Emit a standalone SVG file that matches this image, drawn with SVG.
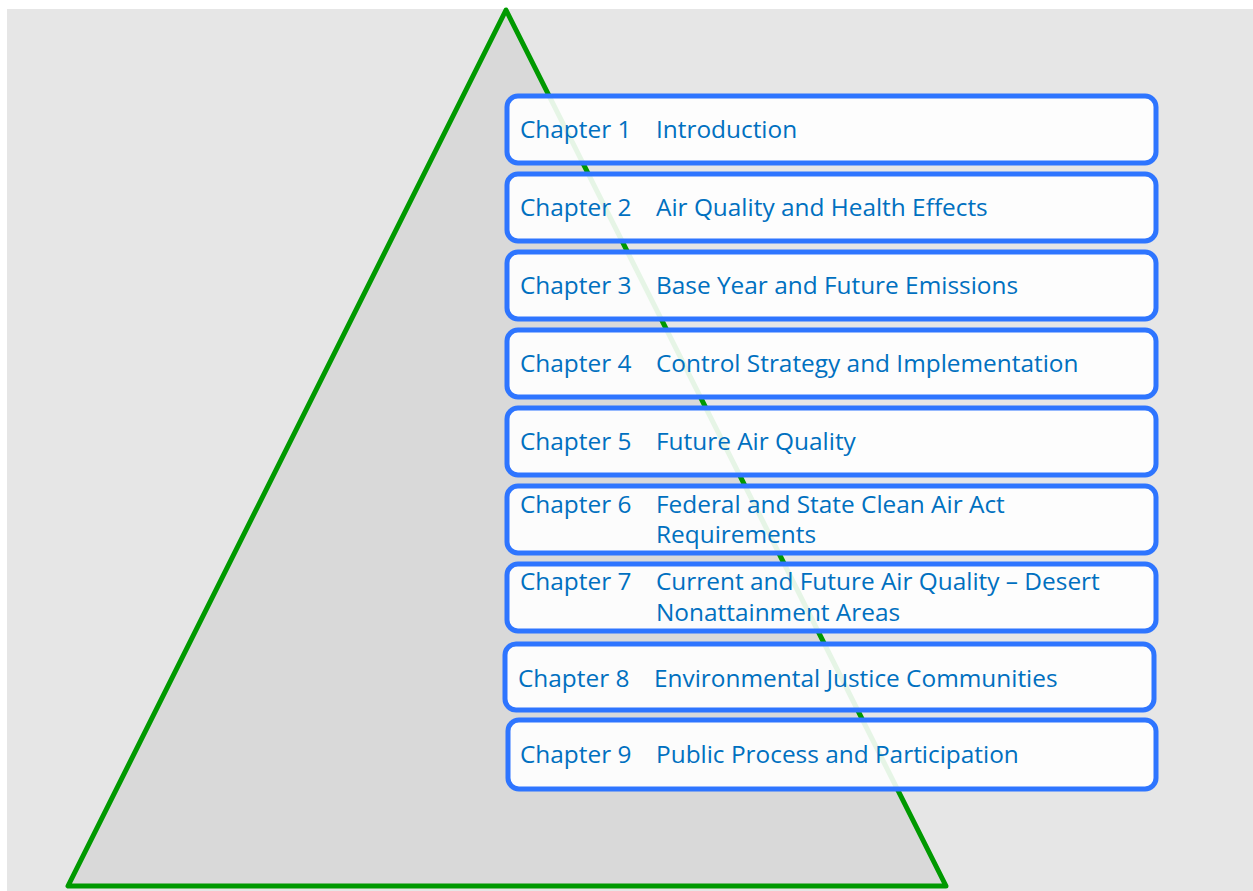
<svg xmlns="http://www.w3.org/2000/svg" width="1253" height="891" viewBox="0 0 1253 891">
<style>
.box{fill:#ffffff;fill-opacity:0.9;stroke:#2e75ff;stroke-width:5}
.t{font-family:"Open Sans","Noto Sans",sans-serif;font-size:24.4px;fill:#0070c0}
</style>
<rect x="0" y="0" width="1253" height="891" fill="#ffffff"/>
<rect x="7" y="9" width="1246" height="882" fill="#e6e6e6"/>
<g id="pyramid">
<polygon points="506,10 68,886 946,886" fill="#d9d9d9" stroke="#009900" stroke-width="5" stroke-linejoin="round"/>
</g>
<g id="connectors"></g>
<g id="ch1"><rect class="box" x="507" y="96" width="649" height="67" rx="11"/><text class="t" x="520" y="138">Chapter 1</text><text class="t" x="656" y="138">Introduction</text></g>
<g id="ch2"><rect class="box" x="507" y="174" width="649" height="67" rx="11"/><text class="t" x="520" y="216">Chapter 2</text><text class="t" x="656" y="216">Air Quality and Health Effects</text></g>
<g id="ch3"><rect class="box" x="507" y="252" width="649" height="67" rx="11"/><text class="t" x="520" y="294">Chapter 3</text><text class="t" x="656" y="294">Base Year and Future Emissions</text></g>
<g id="ch4"><rect class="box" x="507" y="330" width="649" height="67" rx="11"/><text class="t" x="520" y="372">Chapter 4</text><text class="t" x="656" y="372">Control Strategy and Implementation</text></g>
<g id="ch5"><rect class="box" x="507" y="408" width="649" height="67" rx="11"/><text class="t" x="520" y="450">Chapter 5</text><text class="t" x="656" y="450">Future Air Quality</text></g>
<g id="ch6"><rect class="box" x="507" y="486" width="649" height="67" rx="11"/><text class="t" x="520" y="513">Chapter 6</text><text class="t" x="656" y="513">Federal and State Clean Air Act</text><text class="t" x="656" y="543">Requirements</text></g>
<g id="ch7"><rect class="box" x="507" y="564" width="649" height="67" rx="11"/><text class="t" x="520" y="590">Chapter 7</text><text class="t" x="656" y="590">Current and Future Air Quality – Desert</text><text class="t" x="656" y="621">Nonattainment Areas</text></g>
<g id="ch8"><rect class="box" x="505" y="644" width="649" height="66" rx="11"/><text class="t" x="518" y="687">Chapter 8</text><text class="t" x="654" y="687">Environmental Justice Communities</text></g>
<g id="ch9"><rect class="box" x="508" y="720" width="648" height="69" rx="11"/><text class="t" x="520" y="763">Chapter 9</text><text class="t" x="656" y="763">Public Process and Participation</text></g>
</svg>
